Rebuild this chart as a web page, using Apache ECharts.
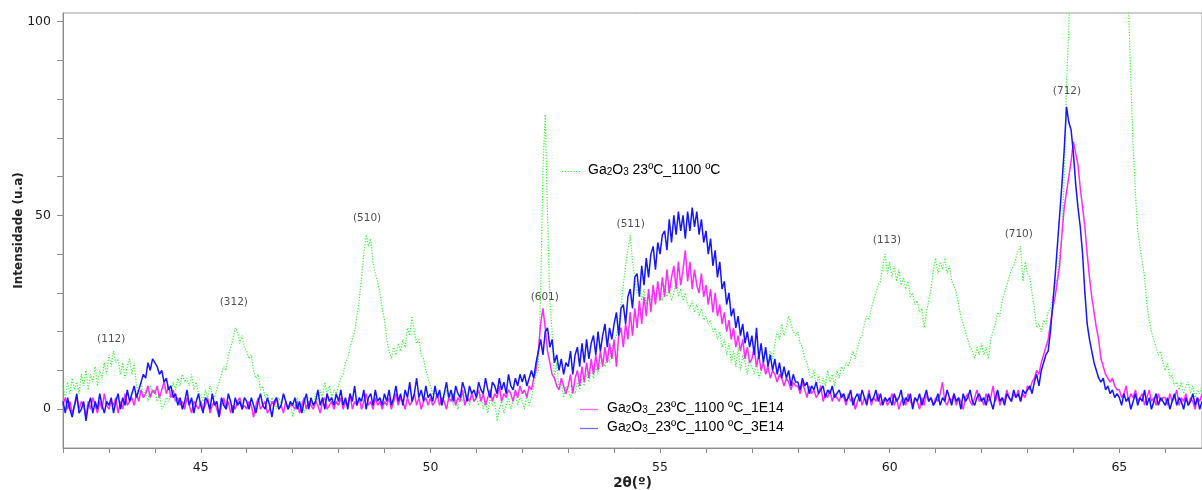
<!DOCTYPE html>
<html>
<head>
<meta charset="utf-8">
<title>DRX Ga2O3</title>
<script src="https://cdn.jsdelivr.net/npm/echarts@6/dist/echarts.min.js"></script>
<style>
  html, body { margin: 0; padding: 0; background: #ffffff; }
  #chart { width: 1202px; height: 490px; }
</style>
</head>
<body>
<div id="chart"></div>
<script>
// Scan grid: 2θ from 42.00° in steps of 0.05°
const THETA_START = 42.0;
const THETA_STEP = 0.05;

// Ga2O3 23ºC_1100 ºC (reference, dotted green)
const ref1100 = [
  6, 3, 7, 4, 8, 5, 7, 4, 9, 6, 10, 5, 9, 7, 11, 6, 10, 8, 12, 9,            // 42
  14, 11, 15, 12, 13, 9, 12, 8, 11, 13, 9, 12, 6, 4, 7, 3, 5, 2, 6, 4,       // 43
  5, 2, 4, 0, 1, 3, 2, 5, 7, 5, 8, 6, 9, 7, 8, 6, 9, 5, 7, 4,                // 44
  4, 2, 5, 3, 6, 4, 3, 5, 7, 9, 11, 10, 14, 16, 18, 21, 20, 17, 19, 16,      // 45
  15, 13, 14, 10, 8, 9, 5, 6, 3, 4, 1, 3, 2, 0, 3, 1, 4, 2, 0, 2,            // 46
  -2, 1, 3, 0, 2, -1, 1, 3, 2, 0, 4, 2, 5, 3, 7, 4, 6, 3, 5, 4,              // 47
  6, 8, 9, 12, 13, 16, 18, 20, 24, 28, 34, 40, 45, 42, 44, 38, 35, 33, 30, 26, // 48
  23, 18, 15, 13, 16, 14, 17, 15, 18, 16, 21, 19, 24, 20, 17, 18, 14, 13, 10, 8, // 49
  6, 4, 5, 2, 4, 1, 3, 5, 2, 4, 1, 3, 0, 4, 2, 5, 3, 1, 4, 2,                // 50
  3, 1, 4, 0, 2, -1, 3, 1, 2, -3, 0, 2, -1, 1, 3, 0, 2, 4, 1, 3,             // 51
  2, 0, 4, 1, 3, 6, 9, 10, 30, 62, 76, 50, 28, 20, 8, 12, 5, 7, 3, 6,        // 52
  5, 3, 6, 4, 7, 5, 8, 6, 9, 7, 10, 8, 11, 9, 12, 13, 11, 14, 12, 16,        // 53
  17, 19, 22, 27, 32, 37, 41, 45, 38, 34, 30, 32, 28, 31, 27, 30, 28, 31, 29, 32, // 54
  30, 28, 32, 29, 31, 28, 30, 33, 29, 31, 28, 30, 27, 26, 28, 25, 27, 24, 26, 23, // 55
  24, 22, 23, 20, 21, 18, 20, 16, 18, 14, 17, 12, 15, 11, 16, 10, 14, 12, 9, 13, // 56
  11, 9, 12, 8, 10, 13, 9, 12, 15, 13, 17, 20, 18, 22, 19, 21, 24, 22, 20, 19, // 57
  20, 17, 16, 13, 12, 9, 8, 10, 6, 9, 5, 8, 6, 10, 7, 9, 6, 10, 8, 11,       // 58
  10, 12, 11, 13, 15, 13, 16, 18, 19, 22, 24, 23, 26, 28, 30, 32, 33, 37, 40, 35, // 59
  38, 34, 37, 33, 36, 32, 34, 31, 33, 29, 30, 27, 28, 25, 26, 21, 25, 28, 31, 36, // 60
  39, 35, 38, 36, 39, 35, 37, 33, 32, 30, 27, 24, 22, 20, 18, 16, 15, 13, 16, 14, // 61
  17, 14, 16, 13, 18, 20, 22, 25, 24, 28, 30, 32, 34, 36, 37, 39, 41, 42, 33, 38, // 62
  35, 34, 30, 26, 21, 22, 20, 23, 22, 25, 26, 29, 32, 34, 40, 45, 60, 84, 98, 120, // 63
  145, 170, 200, 230, 260, 290, 310, 320, 330, 325, 315, 300, 285, 270, 250, 235, 220, 205, 190, 180, // 64
  165, 150, 135, 120, 104, 85, 68, 56, 46, 42, 38, 34, 27, 23, 20, 18, 16, 14, 15, 12, // 65
  10, 12, 8, 9, 6, 7, 5, 7, 4, 6, 7, 4, 6, 3, 5, 4, 6                        // 66
];

// Ga2O3_23ºC_1100 ºC_1E14 (magenta)
const dose1E14 = [
  1, 3, 0, 2, -1, 1, 3, 0, 2, 1, -2, 2, 0, 3, 1, -1, 2, 0, 4, 1,             // 42
  0, 2, 1, 3, -1, 2, 0, 4, 1, 2, 3, 1, 4, 2, 5, 3, 4, 6, 3, 5,               // 43
  4, 6, 3, 5, 7, 4, 6, 3, 5, 2, 3, 1, 2, 0, 3, 1, -1, 2, 1, 0,               // 44
  2, 0, 1, 3, -1, 1, 2, 0, -2, 1, 3, 0, 2, -1, 1, 0, 2, 3, 0, 1,             // 45
  0, 2, 1, -2, 1, 3, 0, 1, 2, -1, 0, 2, 1, 3, 0, 1, -1, 2, 0, 1,             // 46
  1, 0, 2, -1, 1, 3, 0, 2, 1, 0, 2, 1, -1, 2, 3, 0, 1, 2, 0, 2,              // 47
  1, 3, 0, 2, 1, 4, 0, 2, 1, 3, 0, 2, 4, 1, 2, 0, 3, 1, 2, 0,                // 48
  2, 1, 3, 0, 2, 4, 1, 3, 2, 0, 3, 1, 2, 4, 1, 3, 0, 2, 3, 1,                // 49
  3, 1, 2, 4, 1, 3, 2, 0, 3, 2, 4, 1, 3, 2, 5, 1, 3, 2, 4, 2,                // 50
  3, 5, 2, 4, 1, 3, 5, 2, 4, 3, 6, 2, 4, 3, 5, 4, 2, 5, 3, 6,                // 51
  4, 5, 3, 6, 5, 8, 10, 15, 22, 26, 21, 15, 12, 9, 8, 6, 5, 8, 6, 4,         // 52
  6, 9, 4, 8, 10, 6, 11, 7, 12, 8, 13, 9, 14, 10, 15, 11, 16, 12, 17, 13,    // 53
  18, 11, 19, 21, 16, 22, 18, 25, 19, 26, 21, 28, 22, 29, 24, 31, 25, 32, 27, 33, // 54
  28, 34, 29, 36, 30, 34, 37, 31, 38, 32, 36, 41, 33, 38, 31, 36, 32, 30, 35, 29, // 55
  32, 27, 31, 25, 30, 24, 27, 22, 25, 20, 23, 18, 21, 16, 19, 15, 18, 13, 16, 12, // 56
  13, 16, 11, 14, 10, 12, 9, 11, 8, 10, 9, 7, 9, 8, 6, 8, 7, 5, 7, 6,        // 57
  6, 4, 7, 5, 3, 6, 4, 5, 3, 4, 6, 2, 4, 3, 5, 2, 4, 3, 2, 4,                // 58
  3, 1, 4, 2, 3, 0, 2, 4, 1, 3, 2, 5, 1, 3, 2, 4, 1, 2, 3, 1,                // 59
  2, 4, 1, 3, 0, 2, 3, 1, 4, 2, 1, 3, 2, 0, 3, 1, 4, 2, 3, 1,                // 60
  3, 2, 4, 7, 2, 1, 3, 2, 4, 1, 3, 2, 0, 3, 4, 2, 1, 3, 5, 2,                // 61
  3, 1, 4, 2, 3, 6, 2, 4, 1, 3, 2, 5, 3, 2, 4, 3, 5, 2, 4, 3,                // 62
  6, 5, 7, 8, 10, 9, 12, 14, 16, 18, 22, 26, 29, 33, 37, 45, 52, 56, 60, 64, // 63
  69, 66, 63, 57, 52, 47, 40, 34, 29, 25, 21, 18, 13, 11, 9, 8, 7, 8, 6, 5,  // 64
  5, 3, 4, 6, 2, 4, 3, 5, 2, 3, 4, 1, 3, 5, 2, 3, 1, 4, 2, 3,                // 65
  3, 1, 4, 2, 3, 5, 1, 3, 2, 4, 1, 3, 2, 0, 3, 2, 4                          // 66
];

// Ga2O3_23ºC_1100 ºC_3E14 (blue)
const dose3E14 = [
  2, -1, 3, 0, -2, 1, 4, -1, 0, 2, -3, 1, 3, -1, 2, 0, 4, 1, -1, 2,          // 42
  1, 3, -1, 2, 4, 0, 3, 1, 5, 2, 4, 6, 3, 5, 7, 9, 8, 12, 10, 13,            // 43
  12, 11, 9, 10, 7, 8, 5, 6, 3, 4, 1, 3, 0, 2, 5, 1, 3, -1, 2, 4,            // 44
  1, -1, 3, 2, 0, 4, 1, 2, -2, 3, 1, 0, 4, 2, -1, 3, 1, 2, 0, 3,             // 45
  2, 0, 3, 1, -1, 2, 4, 1, 0, 3, 1, -2, 2, 3, 0, 1, 4, 2, 0, 2,              // 46
  1, 3, 0, 2, -1, 2, 4, 0, 3, 1, 2, 5, 1, 3, 0, 4, 2, 3, 1, 4,               // 47
  2, 5, 1, 3, 0, 4, 2, 6, 1, 3, 2, 5, 0, 3, 4, 1, 5, 2, 3, 1,                // 48
  4, 2, 5, 1, 3, 6, 2, 4, 1, 5, 3, 7, 2, 4, 8, 3, 5, 2, 6, 3,                // 49
  4, 2, 6, 3, 5, 1, 4, 7, 3, 5, 2, 6, 4, 3, 7, 5, 2, 6, 4, 5,                // 50
  3, 7, 5, 4, 8, 5, 3, 7, 6, 4, 8, 5, 7, 4, 9, 6, 5, 8, 6, 9,                // 51
  7, 9, 6, 8, 10, 8, 12, 15, 18, 14, 20, 21, 16, 18, 12, 14, 10, 13, 9, 12,  // 52
  11, 15, 9, 14, 16, 11, 17, 12, 18, 13, 17, 19, 14, 20, 15, 19, 22, 16, 21, 18, // 53
  22, 25, 19, 26, 27, 22, 29, 31, 26, 34, 35, 29, 37, 32, 39, 34, 40, 42, 36, 43, // 54
  40, 45, 46, 41, 49, 43, 50, 45, 51, 46, 50, 44, 51, 46, 52, 47, 51, 45, 49, 43, // 55
  46, 40, 44, 37, 41, 34, 38, 31, 33, 27, 30, 24, 26, 21, 24, 19, 22, 17, 20, 16, // 56
  19, 14, 21, 13, 17, 12, 16, 11, 14, 10, 13, 9, 12, 8, 11, 8, 10, 6, 9, 7,  // 57
  7, 5, 8, 6, 7, 4, 6, 5, 7, 4, 5, 6, 3, 5, 4, 6, 3, 4, 5, 3,                // 58
  4, 2, 3, 5, 1, 3, 4, 2, 5, 3, 1, 4, 2, 3, 5, 2, 4, 1, 3, 2,                // 59
  3, 1, 4, 2, 3, 5, 1, 3, 2, 4, 0, 3, 2, 4, 1, 3, 5, 2, 3, 1,                // 60
  2, 4, 1, 3, 2, 5, 3, 1, 4, 2, 3, 0, 4, 2, 3, 5, 2, 1, 3, 4,                // 61
  2, 3, 1, 4, 2, 0, 3, 5, 2, 3, 1, 4, 3, 2, 5, 3, 4, 2, 5, 4,                // 62
  5, 6, 4, 7, 9, 6, 10, 12, 14, 15, 20, 27, 34, 42, 50, 58, 67, 78, 74, 72,  // 63
  66, 58, 52, 47, 40, 30, 22, 18, 15, 12, 10, 8, 7, 8, 5, 6, 4, 5, 3, 4,     // 64
  3, 1, 4, 2, 3, 0, 2, 4, 1, 3, 2, 5, 1, 3, 0, 2, 4, 1, 3, 2,                // 65
  1, 3, 0, 2, 4, 1, 3, 2, 0, 3, 1, 2, 4, 1, 3, 0, 2                          // 66
];

// Reflection indices (hkl) with the 2θ and height where each tag sits
const hklTags = ['(112)', '(312)', '(510)', '(601)', '(511)', '(113)', '(710)', '(712)'];
const hklTheta = [43.05, 45.72, 48.62, 52.49, 54.36, 59.94, 62.81, 63.86];
const hklHeight = [18.1, 27.5, 49.3, 28.9, 47.7, 43.7, 45.0, 81.9];

// Axis ticks and labels
const xTicks = [42, 43, 44, 45, 46, 47, 48, 49, 50, 51, 52, 53, 54, 55, 56, 57, 58, 59, 60, 61, 62, 63, 64, 65, 66];
const xLabels = [45, 50, 55, 60, 65];
const yTicks = [0, 10, 20, 30, 40, 50, 60, 70, 80, 90, 100];
const yLabels = [0, 50, 100];

function toPairs(values) {
  return values.map((v, i) => [+(THETA_START + i * THETA_STEP).toFixed(2), v]);
}

const AXIS_COLOR = '#8c8c8c';
const TICK_FONT = 'DejaVu Sans';
const LEGEND_FONT = 'Liberation Sans';

const COLOR_REF = '#3cf03c';
const COLOR_1E14 = '#ff2bff';
const COLOR_3E14 = '#1515ff';

// Rich text pieces for the chemical formula with subscripts
const formulaRich = {
  n: { fontFamily: LEGEND_FONT, fontSize: 14, color: '#222', lineHeight: 16, verticalAlign: 'bottom' },
  s: { fontFamily: LEGEND_FONT, fontSize: 10, color: '#222', lineHeight: 12, verticalAlign: 'bottom' }
};
function formula(rest) {
  return '{n|Ga}{s|2}{n|O}{s|3}{n|' + rest + '}';
}

const chart = echarts.init(document.getElementById('chart'), null, { renderer: 'canvas' });

chart.setOption({
  animation: false,
  backgroundColor: '#ffffff',
  grid: {
    left: 63, right: 0, top: 13, bottom: 42,
    outerBoundsMode: 'none',
    containLabel: false,
    show: true, borderColor: '#9a9a9a', borderWidth: 1, backgroundColor: 'transparent'
  },
  xAxis: {
    type: 'value',
    min: 42, max: 66.8,
    name: '2θ(º)',
    nameLocation: 'middle',
    nameGap: 28,
    nameMoveOverlap: false,
    nameTextStyle: { fontFamily: TICK_FONT, fontSize: 13.5, fontWeight: 'bold', color: '#222' },
    axisLine: { show: true, onZero: false, lineStyle: { color: AXIS_COLOR, width: 1 } },
    axisTick: { show: true, length: 5, customValues: xTicks, lineStyle: { color: AXIS_COLOR } },
    axisLabel: { customValues: xLabels, margin: 13, fontFamily: TICK_FONT, fontSize: 12.5, color: '#1a1a1a' },
    splitLine: { show: false }
  },
  yAxis: {
    type: 'value',
    min: -10, max: 102.2,
    name: 'Intensidade (u.a)',
    nameLocation: 'middle',
    nameGap: 38,
    nameMoveOverlap: false,
    nameRotate: 90,
    nameTextStyle: { fontFamily: TICK_FONT, fontSize: 12, fontWeight: 'bold', color: '#222' },
    axisLine: { show: true, onZero: false, lineStyle: { color: AXIS_COLOR, width: 1 } },
    axisTick: { show: true, length: 6, customValues: yTicks, lineStyle: { color: AXIS_COLOR } },
    axisLabel: { customValues: yLabels, margin: 12, fontFamily: TICK_FONT, fontSize: 12.5, color: '#1a1a1a' },
    splitLine: { show: false }
  },
  series: [
    {
      name: 'Ga2O3 23ºC_1100 ºC',
      type: 'line',
      data: toPairs(ref1100),
      symbol: 'none',
      clip: true,
      lineStyle: { color: COLOR_REF, width: 1.2, type: [1.2, 1.6] },
      z: 2
    },
    {
      name: 'Ga2O3_23ºC_1100 ºC_1E14',
      type: 'line',
      data: toPairs(dose1E14),
      symbol: 'none',
      clip: true,
      lineStyle: { color: COLOR_1E14, width: 1.5 },
      z: 3
    },
    {
      name: 'Ga2O3_23ºC_1100 ºC_3E14',
      type: 'line',
      data: toPairs(dose3E14),
      symbol: 'none',
      clip: true,
      lineStyle: { color: COLOR_3E14, width: 1.5 },
      z: 4
    },
    {
      name: 'hkl',
      type: 'scatter',
      silent: true,
      symbolSize: 0,
      data: hklTags.map((t, i) => ({ value: [hklTheta[i], hklHeight[i]], name: t })),
      label: {
        show: true,
        position: 'inside',
        formatter: p => p.name,
        fontFamily: TICK_FONT,
        fontSize: 10.5,
        color: '#222'
      },
      z: 5
    }
  ],
  graphic: [
    // key for the reference scan
    {
      type: 'line', silent: true, z: 10,
      shape: { x1: 562, y1: 171.5, x2: 580, y2: 171.5 },
      style: { stroke: COLOR_REF, lineWidth: 1.2, lineDash: [1.2, 1.6] }
    },
    {
      type: 'text', silent: true, z: 10, left: 588, top: 163,
      style: { text: formula(' 23ºC_1100 ºC'), rich: formulaRich }
    },
    // key for the implanted samples
    {
      type: 'line', silent: true, z: 10,
      shape: { x1: 580, y1: 409.5, x2: 598, y2: 409.5 },
      style: { stroke: COLOR_1E14, lineWidth: 1.3, opacity: 0.7 }
    },
    {
      type: 'text', silent: true, z: 10, left: 607, top: 401,
      style: { text: formula('_23ºC_1100 ºC_1E14'), rich: formulaRich }
    },
    {
      type: 'line', silent: true, z: 10,
      shape: { x1: 580, y1: 428.5, x2: 598, y2: 428.5 },
      style: { stroke: COLOR_3E14, lineWidth: 1.3, opacity: 0.6 }
    },
    {
      type: 'text', silent: true, z: 10, left: 607, top: 420,
      style: { text: formula('_23ºC_1100 ºC_3E14'), rich: formulaRich }
    }
  ]
});
</script>
</body>
</html>
